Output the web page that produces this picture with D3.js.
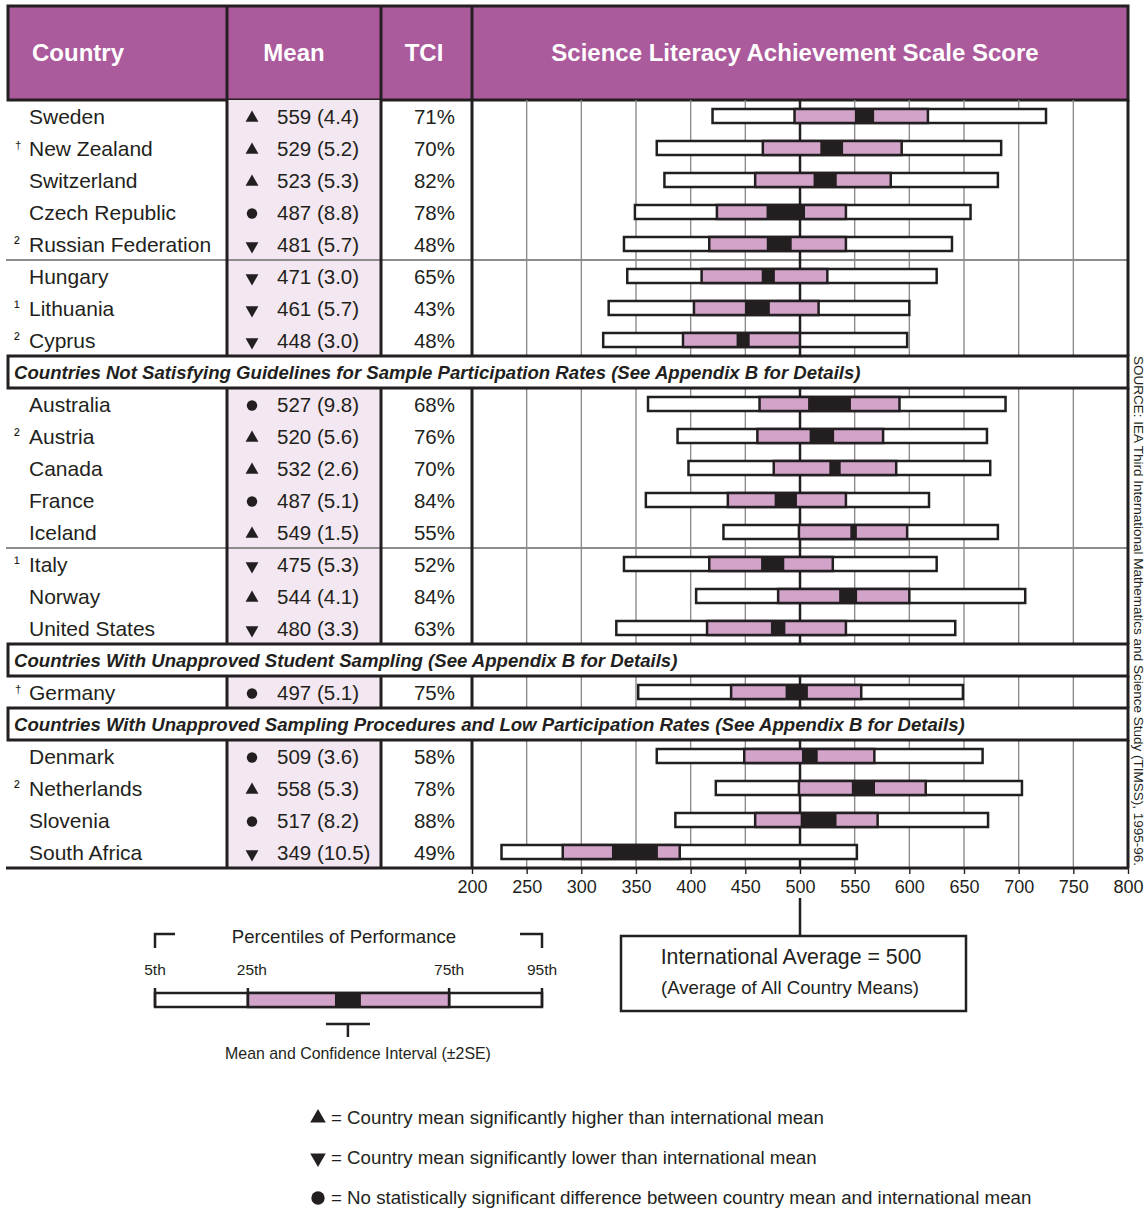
<!DOCTYPE html>
<html>
<head>
<meta charset="utf-8">
<script src="https://cdn.jsdelivr.net/npm/d3@7"></script>
<style>
  body { margin: 0; background: #fff; }
  svg { display: block; font-family: "Liberation Sans", Arial, Helvetica, sans-serif; }
</style>
</head>
<body>
<svg id="chart" width="1145" height="1209"></svg>
<script>
// ---- data ----
const countries = ["Sweden", "New Zealand", "Switzerland", "Czech Republic", "Russian Federation",
  "Hungary", "Lithuania", "Cyprus",
  "Australia", "Austria", "Canada", "France", "Iceland", "Italy", "Norway", "United States",
  "Germany",
  "Denmark", "Netherlands", "Slovenia", "South Africa"];
const notes = ["", "†", "", "", "²", "", "¹", "²",
  "", "²", "", "", "", "¹", "", "",
  "†",
  "", "²", "", ""];
const means = [559, 529, 523, 487, 481, 471, 461, 448,
  527, 520, 532, 487, 549, 475, 544, 480,
  497,
  509, 558, 517, 349];
const ses = [4.4, 5.2, 5.3, 8.8, 5.7, 3.0, 5.7, 3.0,
  9.8, 5.6, 2.6, 5.1, 1.5, 5.3, 4.1, 3.3,
  5.1,
  3.6, 5.3, 8.2, 10.5];
const sig = ["up", "up", "up", "same", "down", "down", "down", "down",
  "same", "up", "up", "same", "up", "down", "up", "down",
  "same",
  "same", "up", "same", "down"];
const tci = [71, 70, 82, 78, 48, 65, 43, 48,
  68, 76, 70, 84, 55, 52, 84, 63,
  75,
  58, 78, 88, 49];
const p5  = [420, 369, 376, 349, 339, 342, 325, 320, 361, 388, 398, 359, 430, 339, 405, 332, 352, 369, 423, 386, 227];
const p25 = [495, 466, 459, 424, 417, 410, 403, 393, 463, 461, 476, 434, 499, 417, 480, 415, 437, 449, 499, 459, 283];
const p75 = [617, 593, 583, 542, 542, 525, 517, 500, 591, 576, 588, 542, 598, 530, 600, 542, 556, 568, 615, 571, 390];
const p95 = [725, 684, 681, 656, 639, 625, 600, 598, 688, 671, 674, 618, 681, 625, 706, 642, 649, 667, 703, 672, 552];

const groupLabels = ["",
  "Countries Not Satisfying Guidelines for Sample Participation Rates (See Appendix B for Details)",
  "Countries With Unapproved Student Sampling (See Appendix B for Details)",
  "Countries With Unapproved Sampling Procedures and Low Participation Rates (See Appendix B for Details)"];
const groupSizes = [8, 8, 1, 4];
const separatorAfter = ["Russian Federation", "Iceland"];

const headers = ["Country", "Mean", "TCI", "Science Literacy Achievement Scale Score"];
const ticks = [200, 250, 300, 350, 400, 450, 500, 550, 600, 650, 700, 750, 800];
const intlAverage = 500;

const legendStops = [0, 0.24, 0.465, 0.532, 0.76, 1];   // 5th, 25th, CI low, CI high, 75th, 95th
const legendLabels = ["5th", "25th", "75th", "95th"];
const symbolNotes = [
  ["up", "= Country mean significantly higher than international mean"],
  ["down", "= Country mean significantly lower than international mean"],
  ["same", "= No statistically significant difference between country mean and international mean"]
];
const source = "SOURCE: IEA Third International Mathematics and Science Study (TIMSS), 1995-96.";

// ---- styles ----
const ink = "#231f20";
const purple = "#ab5a9b";
const pink = "#d2a4ca";
const lavender = "#f3e8f1";
const gray = "#8c8c8c";

const svg = d3.select("#chart");

// build table lines (group captions + country rows)
const lines = [];
let ci = 0;
groupLabels.forEach((label, g) => {
  if (label) lines.push({ type: "group", label: label });
  for (let k = 0; k < groupSizes[g]; k++) { lines.push({ type: "row", i: ci }); ci++; }
});

const x = d3.scaleLinear().domain([200, 800]).range([472, 1128]);
const y = d3.scaleBand().domain(d3.range(lines.length)).range([100, 868]);
const bw = y.bandwidth();
const cols = [8, 227, 381, 472, 1128];

// contiguous blocks of country rows
const blocks = [];
lines.forEach((l, j) => {
  if (l.type !== "row") return;
  const last = blocks[blocks.length - 1];
  if (last && last.end === j) last.end = j + 1;
  else blocks.push({ start: j, end: j + 1 });
});
blocks.forEach(b => { b.y0 = y(b.start); b.y1 = y(b.end - 1) + bw; });

function symbolPath(kind, size) {
  const type = kind === "same" ? d3.symbolCircle : d3.symbolTriangle;
  return d3.symbol(type, size)();
}

// ---- header ----
const head = svg.append("g");
head.append("rect")
    .attr("x", cols[0]).attr("y", 6)
    .attr("width", cols[4] - cols[0]).attr("height", 94)
    .attr("fill", purple).attr("stroke", ink).attr("stroke-width", 3);
[1, 2, 3].forEach(k => {
  head.append("line")
      .attr("x1", cols[k]).attr("x2", cols[k]).attr("y1", 6).attr("y2", 100)
      .attr("stroke", ink).attr("stroke-width", 3);
});
const headX = [32, 294, 424, 795];
headers.forEach((h, k) => {
  head.append("text")
      .attr("x", headX[k]).attr("y", 61)
      .attr("text-anchor", k === 0 ? "start" : "middle")
      .attr("fill", "#fff").attr("font-weight", "bold").attr("font-size", 24)
      .text(h);
});

// ---- row blocks: background, grid, dividers ----
const body = svg.append("g");
blocks.forEach(b => {
  body.append("rect")
      .attr("x", cols[1]).attr("y", b.y0)
      .attr("width", cols[2] - cols[1]).attr("height", b.y1 - b.y0)
      .attr("fill", lavender);
  body.selectAll(null)
      .data(ticks.filter(t => t > 200 && t < 800 && t !== intlAverage))
      .enter().append("line")
      .attr("x1", d => x(d)).attr("x2", d => x(d))
      .attr("y1", b.y0).attr("y2", b.y1)
      .attr("stroke", gray).attr("stroke-width", 1.4);
});

// thin separators between sub-blocks
lines.forEach((l, j) => {
  if (l.type === "row" && separatorAfter.includes(countries[l.i])) {
    body.append("line")
        .attr("x1", 6).attr("x2", cols[4])
        .attr("y1", y(j) + bw).attr("y2", y(j) + bw)
        .attr("stroke", gray).attr("stroke-width", 2);
  }
});

// ---- bars ----
const rows = lines.map((l, j) => ({ l: l, j: j })).filter(d => d.l.type === "row");
const barH = 14;
const bars = svg.append("g").selectAll("g")
    .data(rows).enter().append("g")
    .attr("transform", d => `translate(0,${y(d.j) + bw / 2})`);
bars.append("rect")
    .attr("x", d => x(p5[d.l.i])).attr("y", -barH / 2)
    .attr("width", d => x(p95[d.l.i]) - x(p5[d.l.i])).attr("height", barH)
    .attr("fill", "#fff").attr("stroke", ink).attr("stroke-width", 2.5);
bars.append("rect")
    .attr("x", d => x(p25[d.l.i])).attr("y", -barH / 2)
    .attr("width", d => x(p75[d.l.i]) - x(p25[d.l.i])).attr("height", barH)
    .attr("fill", pink).attr("stroke", ink).attr("stroke-width", 2.5);
bars.append("rect")
    .attr("x", d => x(means[d.l.i] - 2 * ses[d.l.i])).attr("y", -barH / 2 - 1)
    .attr("width", d => x(means[d.l.i] + 2 * ses[d.l.i]) - x(means[d.l.i] - 2 * ses[d.l.i]))
    .attr("height", barH + 2)
    .attr("fill", ink);

// international average line & column dividers over bars
blocks.forEach(b => {
  body.append("line")
      .attr("x1", x(intlAverage)).attr("x2", x(intlAverage))
      .attr("y1", b.y0).attr("y2", b.y1)
      .attr("stroke", ink).attr("stroke-width", 2.5);
  [1, 2, 3, 4].forEach(k => {
    svg.append("line")
        .attr("x1", cols[k]).attr("x2", cols[k])
        .attr("y1", b.y0).attr("y2", b.y1)
        .attr("stroke", ink).attr("stroke-width", 3);
  });
});

// ---- group captions ----
const groups = svg.append("g").selectAll("g")
    .data(lines.map((l, j) => ({ l: l, j: j })).filter(d => d.l.type === "group"))
    .enter().append("g");
groups.append("rect")
    .attr("x", cols[0]).attr("y", d => y(d.j))
    .attr("width", cols[4] - cols[0]).attr("height", bw)
    .attr("fill", "#fff").attr("stroke", ink).attr("stroke-width", 3);
groups.append("text")
    .attr("x", 14).attr("y", d => y(d.j) + bw / 2 + 7)
    .attr("font-size", 18.6).attr("font-weight", "bold").attr("font-style", "italic")
    .attr("fill", ink)
    .text(d => d.l.label);

// ---- row texts ----
const rowText = svg.append("g").selectAll("g")
    .data(rows).enter().append("g")
    .attr("transform", d => `translate(0,${y(d.j) + bw / 2})`)
    .attr("fill", ink);
rowText.append("text")
    .attr("x", 29).attr("y", 8).attr("font-size", 21)
    .text(d => countries[d.l.i]);
rowText.append("text")
    .attr("x", d => notes[d.l.i] === "†" ? 15 : 14)
    .attr("y", d => notes[d.l.i] === "†" ? 1 : 5)
    .attr("font-size", d => notes[d.l.i] === "†" ? 11.5 : 17)
    .text(d => notes[d.l.i]);
rowText.append("path")
    .attr("d", d => symbolPath(sig[d.l.i], sig[d.l.i] === "same" ? 85 : 72))
    .attr("transform", d => `translate(252,${sig[d.l.i] === "same" ? 1.5 : 2})` + (sig[d.l.i] === "down" ? " rotate(180)" : ""));
rowText.append("text")
    .attr("x", 277).attr("y", 8).attr("font-size", 20.5)
    .text(d => `${means[d.l.i]} (${ses[d.l.i].toFixed(1)})`);
rowText.append("text")
    .attr("x", 455).attr("y", 8).attr("font-size", 20.5).attr("text-anchor", "end")
    .text(d => tci[d.l.i] + "%");

// ---- bottom line & axis ----
svg.append("line")
    .attr("x1", 6).attr("x2", cols[4]).attr("y1", 868).attr("y2", 868)
    .attr("stroke", ink).attr("stroke-width", 3);
const axis = svg.append("g")
    .attr("transform", "translate(0,868)")
    .call(d3.axisBottom(x).tickValues(ticks).tickSize(6).tickPadding(6));
axis.select(".domain").remove();
axis.selectAll(".tick line").attr("stroke", ink).attr("stroke-width", 1.4);
axis.selectAll(".tick text")
    .attr("font-size", 18).attr("fill", ink)
    .attr("font-family", "Liberation Sans, Arial, sans-serif");

// international average callout
svg.append("line")
    .attr("x1", x(intlAverage)).attr("x2", x(intlAverage)).attr("y1", 898).attr("y2", 936)
    .attr("stroke", ink).attr("stroke-width", 2.5);
svg.append("rect")
    .attr("x", 621).attr("y", 936).attr("width", 345).attr("height", 75)
    .attr("fill", "#fff").attr("stroke", ink).attr("stroke-width", 2.5);
svg.append("text")
    .attr("x", 791).attr("y", 964).attr("text-anchor", "middle")
    .attr("font-size", 21.3).attr("fill", ink)
    .text(`International Average = ${intlAverage}`);
svg.append("text")
    .attr("x", 790).attr("y", 994).attr("text-anchor", "middle")
    .attr("font-size", 18.6).attr("fill", ink)
    .text("(Average of All Country Means)");

// ---- percentile legend ----
const lx = d3.scaleLinear().domain([0, 1]).range([155, 542]);
const leg = svg.append("g").attr("fill", ink);
leg.append("path")
    .attr("d", `M${lx(0)},948V934H${lx(0) + 20}M${lx(1) - 22},934H${lx(1)}V948`)
    .attr("fill", "none").attr("stroke", ink).attr("stroke-width", 2.5);
leg.append("text")
    .attr("x", 344).attr("y", 943).attr("text-anchor", "middle").attr("font-size", 18.6)
    .text("Percentiles of Performance");
const labelStops = [legendStops[0], legendStops[1], legendStops[4], legendStops[5]];
leg.selectAll(".plabel").data(labelStops).enter().append("text")
    .attr("class", "plabel")
    .attr("x", (d, k) => lx(d) + (k === 1 ? 4 : 0)).attr("y", 975)
    .attr("text-anchor", "middle").attr("font-size", 15.5)
    .text((d, k) => legendLabels[k]);
leg.append("rect")
    .attr("x", lx(legendStops[0])).attr("y", 993)
    .attr("width", lx(legendStops[5]) - lx(legendStops[0])).attr("height", barH)
    .attr("fill", "#fff").attr("stroke", ink).attr("stroke-width", 2.5);
leg.append("rect")
    .attr("x", lx(legendStops[1])).attr("y", 993)
    .attr("width", lx(legendStops[4]) - lx(legendStops[1])).attr("height", barH)
    .attr("fill", pink).attr("stroke", ink).attr("stroke-width", 2.5);
leg.append("rect")
    .attr("x", lx(legendStops[2])).attr("y", 992)
    .attr("width", lx(legendStops[3]) - lx(legendStops[2])).attr("height", barH + 2)
    .attr("fill", ink);
leg.selectAll(".ptick").data(labelStops).enter().append("line")
    .attr("class", "ptick")
    .attr("x1", d => lx(d)).attr("x2", d => lx(d)).attr("y1", 988).attr("y2", 1007)
    .attr("stroke", ink).attr("stroke-width", 2.5);
const ciMid = lx((legendStops[2] + legendStops[3]) / 2);
leg.append("path")
    .attr("d", `M${ciMid - 22},1024H${ciMid + 22}M${ciMid},1024V1037`)
    .attr("fill", "none").attr("stroke", ink).attr("stroke-width", 2.5);
leg.append("text")
    .attr("x", 358).attr("y", 1059).attr("text-anchor", "middle").attr("font-size", 15.9)
    .text("Mean and Confidence Interval (±2SE)");

// ---- symbol key ----
const key = svg.append("g").selectAll("g")
    .data(symbolNotes).enter().append("g")
    .attr("transform", (d, k) => `translate(0,${1117 + k * 40})`)
    .attr("fill", ink);
key.append("path")
    .attr("d", d => symbolPath(d[0], d[0] === "same" ? 140 : 105))
    .attr("transform", d => "translate(318,1)" + (d[0] === "down" ? " rotate(180)" : ""));
key.append("text")
    .attr("x", 331).attr("y", 7).attr("font-size", 18.7)
    .text(d => d[1]);

// ---- source note ----
svg.append("text")
    .attr("transform", "translate(1134,356) rotate(90)")
    .attr("font-size", 13.5).attr("fill", ink)
    .text(source);
</script>
</body>
</html>
